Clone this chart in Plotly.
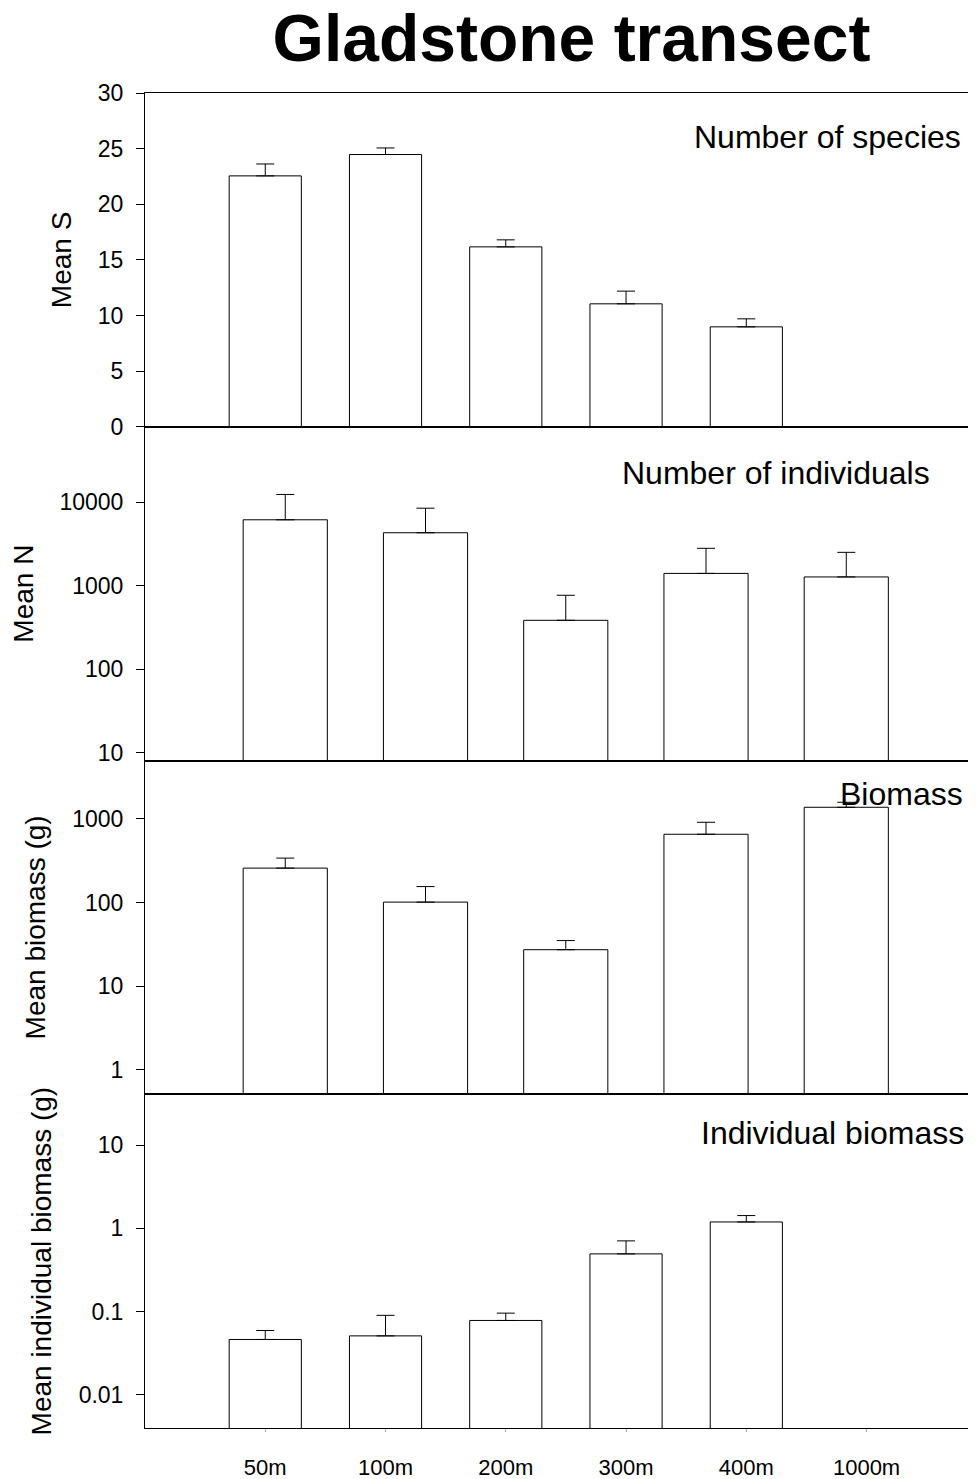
import plotly.graph_objects as go

# ---- data ----
depths_all = ["50m", "100m", "200m", "300m", "400m", "1000m"]
depths_5 = ["50m", "100m", "200m", "300m", "400m"]

mean_S = [22.55, 24.47, 16.17, 11.05, 8.98, None]
se_S = [1.07, 0.59, 0.63, 1.14, 0.72, None]

mean_N = [6150, 4300, 384, 1400, 1270]
se_N = [6220, 4170, 382, 1400, 1236]

mean_B = [258, 101, 27.2, 656, 1380]
se_B = [82, 54, 7.8, 257, 205]

mean_IB = [0.0461, 0.0509, 0.078, 0.492, 1.19, None]
se_IB = [0.013, 0.039, 0.0175, 0.213, 0.23, None]

y_titles = ["Mean S", "Mean N", "Mean biomass (g)", "Mean individual biomass (g)"]
panel_labels = ["Number of species", "Number of individuals", "Biomass", "Individual biomass"]

FONT = "Liberation Sans, Arial, Helvetica, sans-serif"
TICK_SIZE = 23
XTICK_SIZE = 22
TITLE_SIZE = 28
LABEL_SIZE = 32

# page has an 8px body margin, so the figure is 8px smaller than the window
W, H = 968, 1471

fig = go.Figure()

def add_bars(x, y, se, n):
    fig.add_trace(go.Bar(
        x=x, y=y, width=0.6,
        xaxis=f"x{n if n > 1 else ''}", yaxis=f"y{n if n > 1 else ''}",
        marker=dict(color="white", line=dict(color="black", width=1)),
        error_y=dict(type="data", symmetric=False, array=se,
                     arrayminus=[0 if v is not None else None for v in se],
                     color="black", thickness=1, width=9),
        showlegend=False, hoverinfo="x+y",
    ))

add_bars(depths_all, mean_S, se_S, 1)
add_bars(depths_5, mean_N, se_N, 2)
add_bars(depths_5, mean_B, se_B, 3)
add_bars(depths_all, mean_IB, se_IB, 4)

domains = [[0.75, 1.0], [0.5, 0.75], [0.25, 0.5], [0.0, 0.25]]

def xax(cats, rng, show_labels=False):
    d = dict(domain=[0, 1], type="category", categoryorder="array", categoryarray=cats,
             range=rng, showline=True, linecolor="black", linewidth=1, mirror=True,
             showgrid=False, zeroline=False, showticklabels=show_labels,
             tickfont=dict(family=FONT, size=XTICK_SIZE, color="black"))
    if show_labels:
        d.update(ticks="outside", ticklen=3, tickcolor="#aaaaaa", ticklabelstandoff=17)
    else:
        d.update(ticks="")
    return d

def yax(n, title, **kw):
    d = dict(domain=domains[n - 1], anchor=f"x{n if n > 1 else ''}",
             showline=True, linecolor="black", linewidth=1, ticks="outside", ticklen=8,
             tickcolor="black", showgrid=False, zeroline=False,
             tickfont=dict(family=FONT, size=TICK_SIZE, color="black"),
             ticklabelstandoff=8,
             title=dict(text=title, font=dict(family=FONT, size=TITLE_SIZE, color="black"),
                        standoff=18))
    d.update(kw)
    return d

fig.update_layout(
    width=W, height=H,
    margin=dict(l=137, r=0, t=85, b=51),
    paper_bgcolor="white", plot_bgcolor="white",
    font=dict(family=FONT, color="black"),
    bargap=0.4,
    title=dict(text="<b>Gladstone transect</b>", x=563.5 / W, xanchor="center",
               y=1 - 30 / H, yanchor="middle",
               font=dict(family=FONT, size=66, color="black")),
    xaxis=dict(anchor="y", **xax(depths_all, [-1, 5.91])),
    xaxis2=dict(anchor="y2", **xax(depths_5, [-1, 4.925])),
    xaxis3=dict(anchor="y3", **xax(depths_5, [-1, 4.925])),
    xaxis4=dict(anchor="y4", **xax(depths_all, [-1, 5.91], show_labels=True)),
    yaxis=yax(1, y_titles[0], range=[0, 30], tickvals=[0, 5, 10, 15, 20, 25, 30]),
    yaxis2=yax(2, y_titles[1], type="log", range=[0.904, 4.904],
               tickvals=[10, 100, 1000, 10000], ticktext=["10", "100", "1000", "10000"]),
    yaxis3=yax(3, y_titles[2], type="log", range=[-0.296, 3.70],
               tickvals=[1, 10, 100, 1000], ticktext=["1", "10", "100", "1000"]),
    yaxis4=yax(4, y_titles[3], type="log", range=[-2.4, 1.61],
               tickvals=[0.01, 0.1, 1, 10], ticktext=["0.01", "0.1", "1", "10"]),
)

label_pos = [(0.984, 0.867), (0.947, 0.861), (0.987, 0.899), (0.988, 0.885)]
for i, (txt, (px, py)) in enumerate(zip(panel_labels, label_pos)):
    n = i + 1
    sfx = "" if n == 1 else str(n)
    fig.add_annotation(text=txt, xref=f"x{sfx} domain", yref=f"y{sfx} domain",
                       x=px, y=py, xanchor="right", yanchor="middle", showarrow=False,
                       font=dict(family=FONT, size=LABEL_SIZE, color="black"))

fig.write_html("out.html")
